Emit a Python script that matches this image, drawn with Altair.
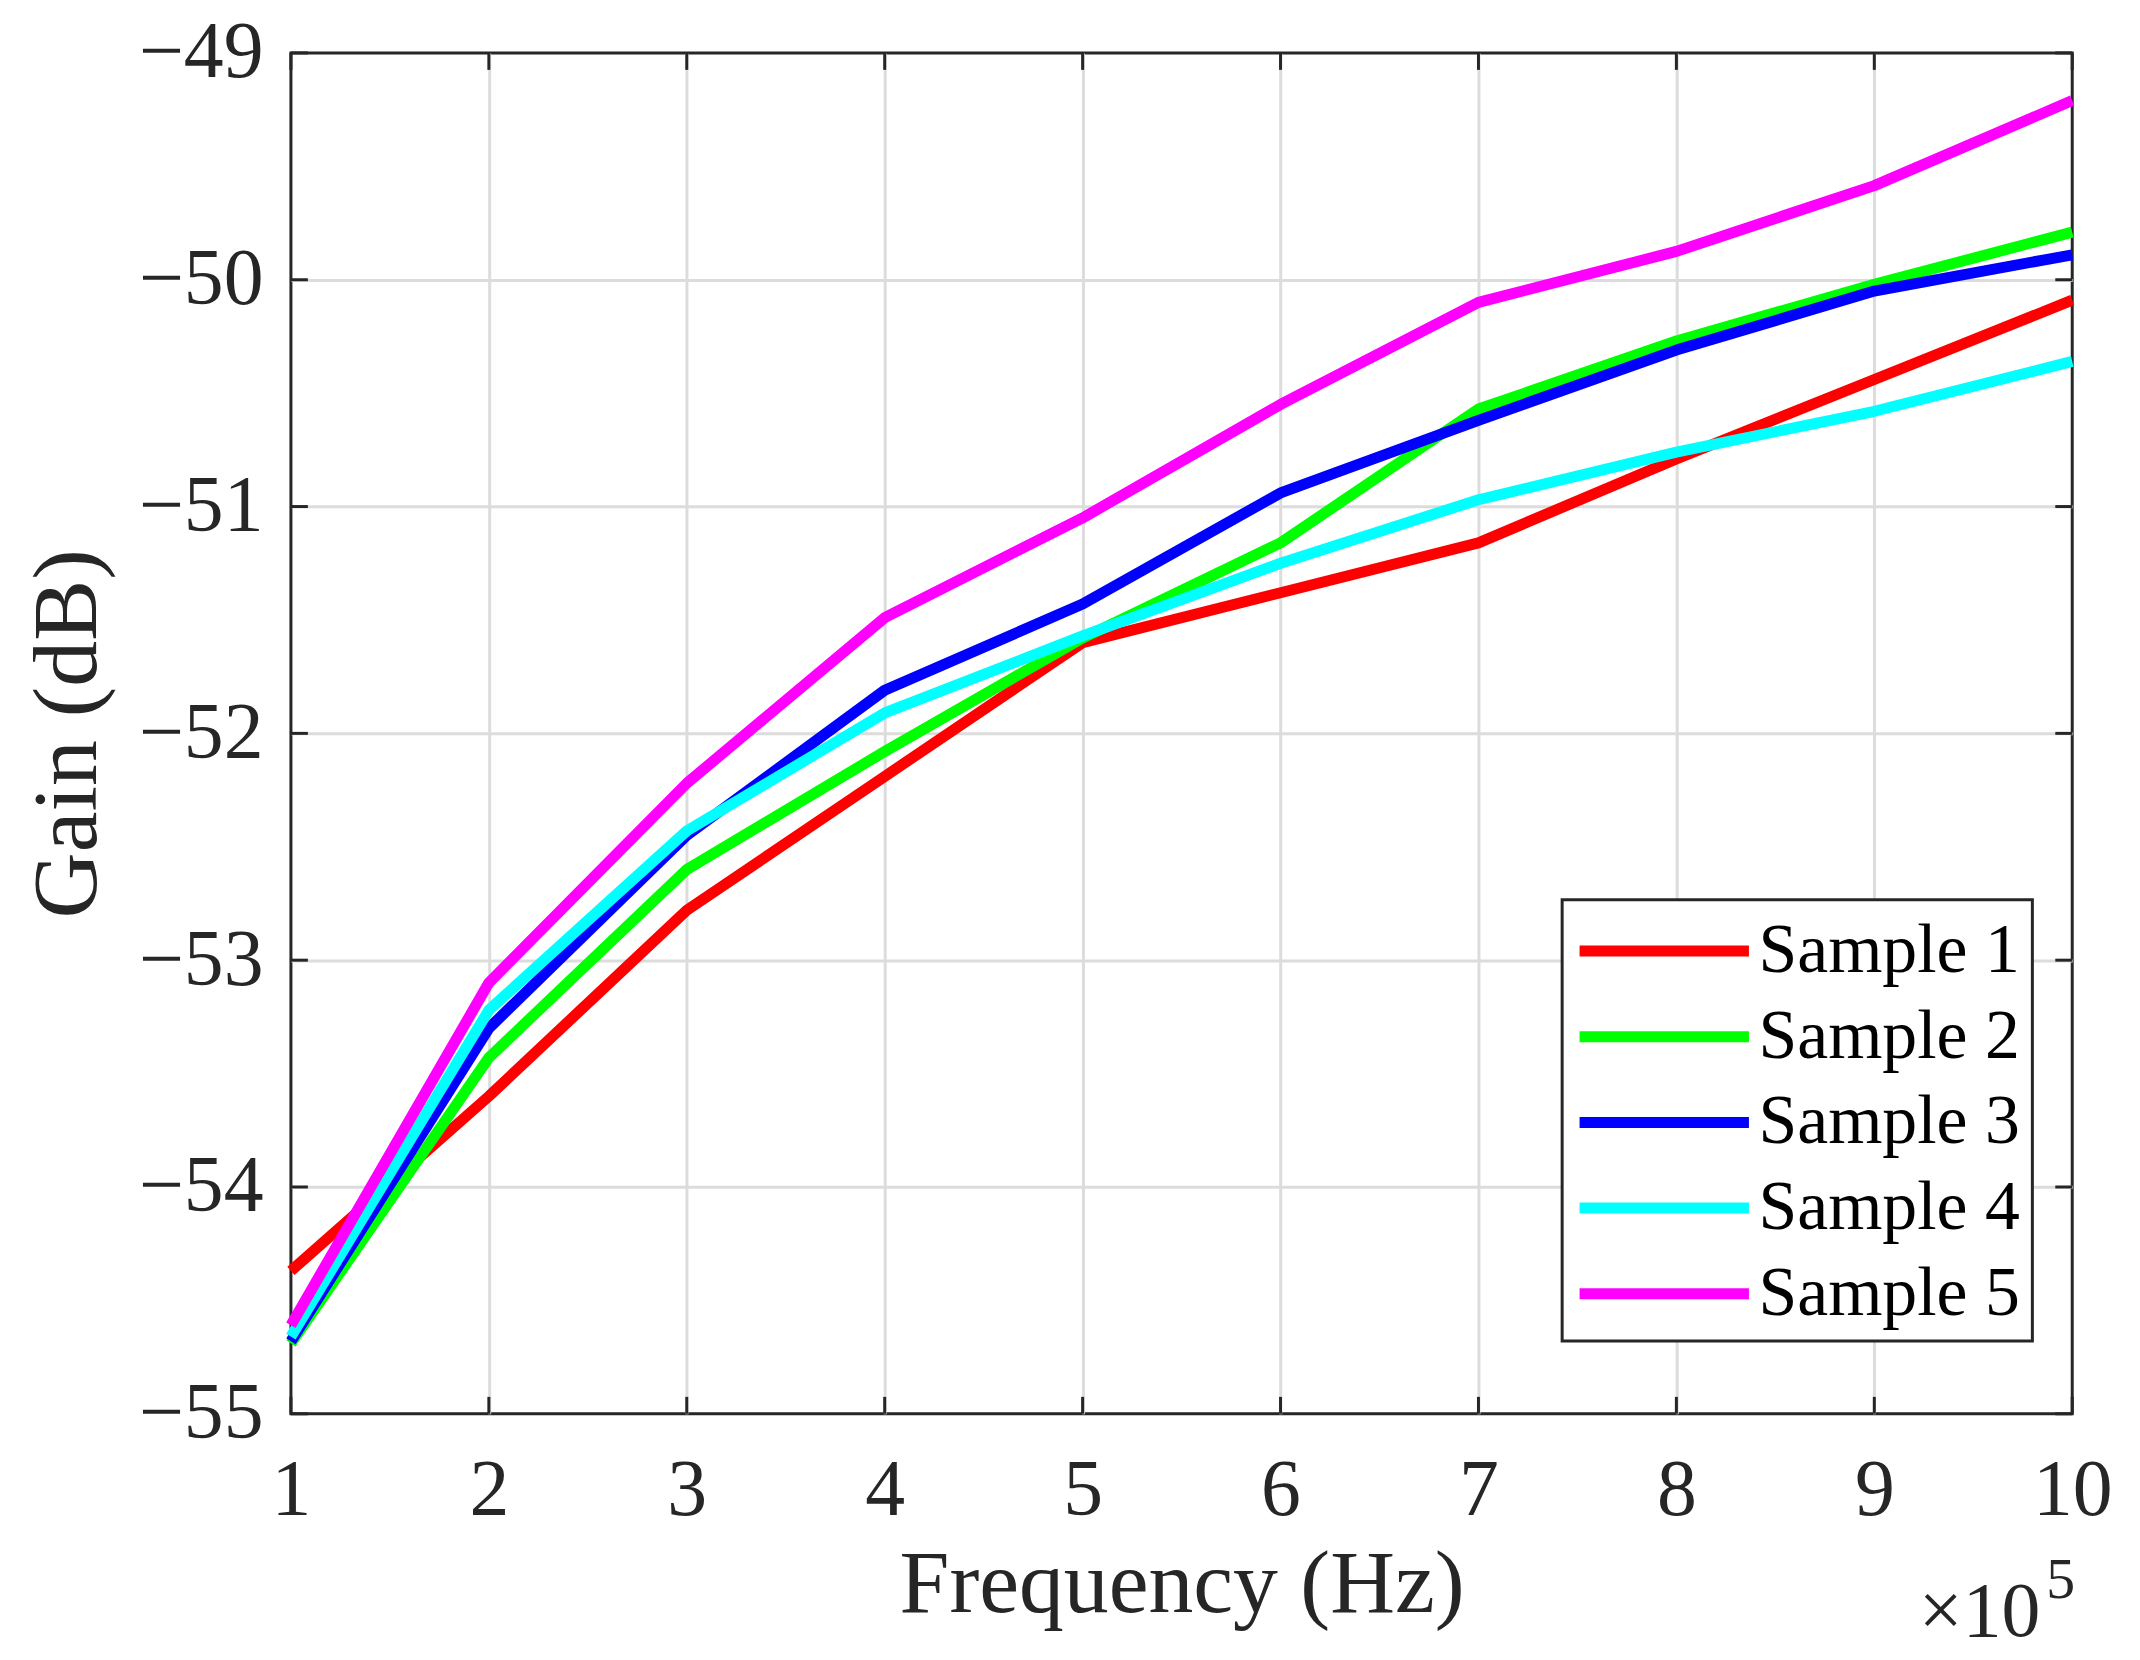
import altair as alt
import pandas as pd

# ---- data ----
freq = [1, 2, 3, 4, 5, 6, 7, 8, 9, 10]  # x 10^5 Hz
sample1 = [-54.37, -53.60, -52.78, -52.19, -51.60, -51.38, -51.16, -50.79, -50.44, -50.09]
sample2 = [-54.69, -53.43, -52.60, -52.08, -51.58, -51.16, -50.57, -50.27, -50.02, -49.79]
sample3 = [-54.68, -53.30, -52.45, -51.81, -51.43, -50.94, -50.62, -50.31, -50.05, -49.89]
sample4 = [-54.66, -53.22, -52.43, -51.91, -51.57, -51.25, -50.97, -50.76, -50.58, -50.36]
sample5 = [-54.61, -53.10, -52.22, -51.49, -51.05, -50.55, -50.10, -49.875, -49.585, -49.21]
series_names = ["Sample 1", "Sample 2", "Sample 3", "Sample 4", "Sample 5"]
series_colors = ["#ff0000", "#00ff00", "#0000ff", "#00ffff", "#ff00ff"]
x_ticks = [1, 2, 3, 4, 5, 6, 7, 8, 9, 10]
y_ticks = [-55, -54, -53, -52, -51, -50, -49]
multiplier_base = ["×10"]
multiplier_exp = ["5"]

rows = []
for name, vals in zip(series_names, [sample1, sample2, sample3, sample4, sample5]):
    for f, g in zip(freq, vals):
        rows.append({"freq": f, "gain": g, "series": name})
df = pd.DataFrame(rows)

W, H = 1788, 1366
FONT = "Liberation Serif"
AX = "#262626"
TICK = 17

x_scale = alt.Scale(domain=[1, 10], nice=False, zero=False)
y_scale = alt.Scale(domain=[-55, -49], nice=False, zero=False)

x_axis = alt.Axis(
    values=x_ticks, title="Frequency (Hz)", grid=True, gridColor="#dcdcdc", gridWidth=3,
    gridOpacity={"condition": {"test": "datum.value == 1 || datum.value == 10", "value": 0}, "value": 1},
    domain=False, ticks=False, labelFont=FONT, labelFontSize=80, labelColor=AX,
    labelPadding=38, labelFlush=False, titleFont=FONT, titleFontSize=90, titleFontWeight="normal",
    titleColor=AX, titlePadding=10,
)
y_axis = alt.Axis(
    values=y_ticks, title="Gain (dB)", grid=True, gridColor="#dcdcdc", gridWidth=3,
    gridOpacity={"condition": {"test": "datum.value == -55 || datum.value == -49", "value": 0}, "value": 1},
    domain=False, ticks=False, labelFont=FONT, labelFontSize=80, labelColor=AX,
    labelPadding=28, labelFlush=False, titleFont=FONT, titleFontSize=92, titleFontWeight="normal",
    titleColor=AX, titlePadding=24,
)

lines = alt.Chart(df).mark_line(strokeWidth=11, strokeJoin="round").encode(
    x=alt.X("freq:Q", scale=x_scale, axis=x_axis),
    y=alt.Y("gain:Q", scale=y_scale, axis=y_axis),
    color=alt.Color(
        "series:N",
        scale=alt.Scale(domain=series_names, range=series_colors),
        legend=alt.Legend(
            orient="none", legendX=1276, legendY=850, title=None,
            symbolType="M-2.5,0H2.5", symbolSize=4624, symbolStrokeWidth=11,
            symbolOffset=51,
            labelFont=FONT, labelFontSize=70, labelColor="black", labelOffset=55,
            labelLimit=0, rowPadding=11, padding=12,
            strokeColor=AX, fillColor="white",
        ),
    ),
)

xt_df = pd.DataFrame({"v": x_ticks})
yt_df = pd.DataFrame({"v": y_ticks})
tick_style = dict(color=AX, strokeWidth=3)

xt_bottom = alt.Chart(xt_df).mark_rule(**tick_style).encode(
    x=alt.X("v:Q", scale=x_scale, axis=x_axis), y=alt.value(H), y2=alt.value(H - TICK))
xt_top = alt.Chart(xt_df).mark_rule(**tick_style).encode(
    x=alt.X("v:Q", scale=x_scale, axis=x_axis), y=alt.value(0), y2=alt.value(TICK))
yt_left = alt.Chart(yt_df).mark_rule(**tick_style).encode(
    y=alt.Y("v:Q", scale=y_scale, axis=y_axis), x=alt.value(0), x2=alt.value(TICK))
yt_right = alt.Chart(yt_df).mark_rule(**tick_style).encode(
    y=alt.Y("v:Q", scale=y_scale, axis=y_axis), x=alt.value(W), x2=alt.value(W - TICK))

mult1 = alt.Chart(pd.DataFrame({"t": multiplier_base})).mark_text(
    font=FONT, fontSize=78, align="right", baseline="alphabetic", color=AX
).encode(text="t:N", x=alt.value(1756), y=alt.value(1589))
mult2 = alt.Chart(pd.DataFrame({"t": multiplier_exp})).mark_text(
    font=FONT, fontSize=58, align="left", baseline="alphabetic", color=AX
).encode(text="t:N", x=alt.value(1762), y=alt.value(1551))

chart = alt.layer(
    lines, xt_bottom, xt_top, yt_left, yt_right, mult1, mult2
).properties(
    width=W, height=H,
    autosize=alt.AutoSizeParams(type="none"),
    padding={"left": 284, "top": 42, "right": 60, "bottom": 236},
    background="white",
).configure_view(
    stroke=AX, strokeWidth=3
).configure_legend(
    strokeWidth=3
)

chart.save("out.html", embed_options={"renderer": "svg", "actions": False})
